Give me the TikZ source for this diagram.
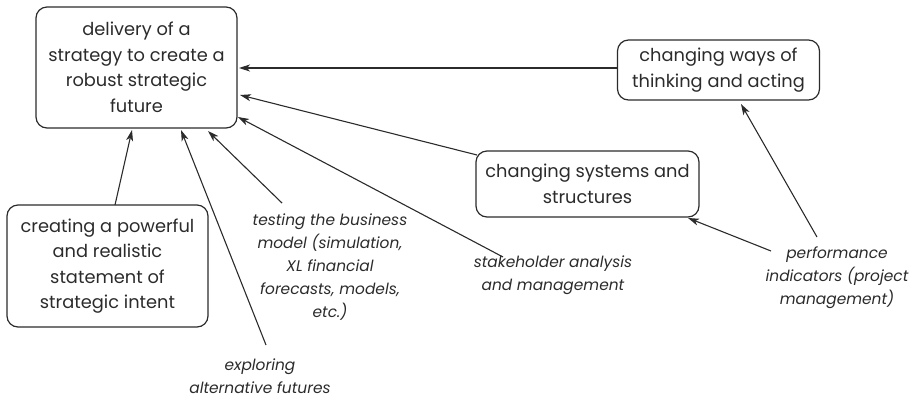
\documentclass[tikz,border=0pt]{standalone}
\usepackage{fontspec}
\setmainfont{Poppins}
\usetikzlibrary{arrows.meta}
\definecolor{ink}{HTML}{2B2B2B}
\begin{document}
\begin{tikzpicture}[x=1pt,y=-1pt,
  every node/.style={inner sep=0pt,outer sep=0pt},
  box/.style={draw=ink, line width=1.2pt, rounded corners=11pt, align=center,
    font=\fontsize{17.8}{25.5}\selectfont, text=ink},
  lbl/.style={align=center, font=\fontsize{15.4}{23}\selectfont\itshape, text=ink},
  arr/.style={draw=ink, line width=1.1pt, -{Stealth[length=11pt,width=7pt,inset=3pt]}}]
  \useasboundingbox (0,0) rectangle (915,400);

  % boxes
  \node[box, minimum width=201pt, minimum height=121pt] (deliver) at (136.5,67.5)
    {delivery of a\\strategy to create a\\robust strategic\\future};
  \node[box, minimum width=202pt, minimum height=60pt] (ways) at (718.5,70)
    {changing ways of\\thinking and acting};
  \node[box, minimum width=223pt, minimum height=66pt] (systems) at (587.5,184)
    {changing systems and\\structures};
  \node[box, minimum width=201pt, minimum height=122pt] (creating) at (107.5,266)
    {creating a powerful\\and realistic\\statement of\\strategic intent};

  % labels
  \node[lbl] (testing) at (330,267)
    {testing the business\\model (simulation,\\XL financial\\forecasts, models,\\etc.)};
  \node[lbl] (exploring) at (260,376) {exploring\\alternative futures};
  \node[lbl] (stake) at (553,275) {stakeholder analysis\\and management};
  \node[lbl] (perf) at (837,278) {performance\\indicators (project\\management)};

  % connector ends
  \coordinate (wA) at (617,68);   \coordinate (dA) at (239,68);
  \coordinate (sA) at (477,155);  \coordinate (dB) at (240,95);
  \coordinate (kA) at (503,257);  \coordinate (dC) at (238,117);
  \coordinate (tA) at (282,203);  \coordinate (dD) at (208,131);
  \coordinate (eA) at (266,345);  \coordinate (dE) at (181,130);
  \coordinate (cA) at (115,205);  \coordinate (dF) at (132,130);
  \coordinate (pA) at (771,251);  \coordinate (sB) at (688,218);
  \coordinate (pB) at (817,237);  \coordinate (wB) at (741,104);

  % connectors
  \draw[arr] (wA) -- (dA);
  \draw[arr] (sA) -- (dB);
  \draw[arr] (kA) -- (dC);
  \draw[arr] (tA) -- (dD);
  \draw[arr] (eA) -- (dE);
  \draw[arr] (cA) -- (dF);
  \draw[arr] (pA) -- (sB);
  \draw[arr] (pB) -- (wB);
\end{tikzpicture}
\end{document}
